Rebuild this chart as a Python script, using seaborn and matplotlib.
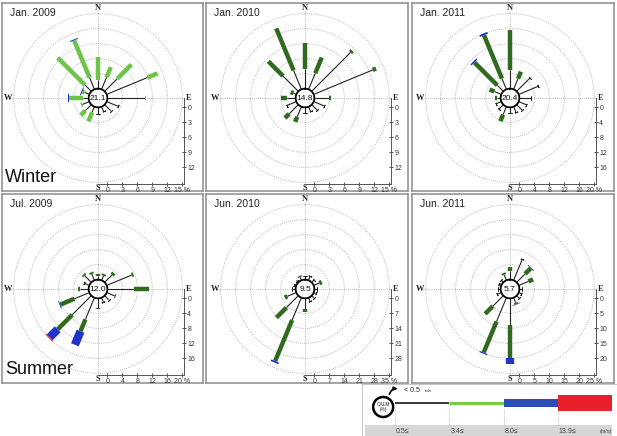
import numpy as np
import matplotlib
matplotlib.use("Agg")
import matplotlib.pyplot as plt
from matplotlib.patches import Ellipse
import seaborn as sns

W, H = 617, 436

# 16 wind directions, clockwise from north
directions = ["N", "NNE", "NE", "ENE", "E", "ESE", "SE", "SSE",
              "S", "SSW", "SW", "WSW", "W", "WNW", "NW", "NNW"]
legend_bounds = ["0.5≤", "3.4≤", "8.0≤", "13.9≤"]

panel_titles = ["Jan. 2009", "Jan. 2010", "Jan. 2011", "Jul. 2009", "Jun. 2010", "Jun. 2011"]
calm_values = [21.1, 14.8, 20.4, 12.0, 9.5, 5.7]
scale_steps = [3, 3, 4, 4, 7, 5]
season_labels = ["Winter", "Summer"]

# frequency (%) per direction for each speed class:
# low 0.5-3.4 m/s, mid 3.4-8.0, high 8.0-13.9, top >= 13.9
jan2009_low = [1.7, 2.6, 3.6, 8.8, 7.5, 2.4, 1.7, 1.0, 1.3, 1.2, 1.7, 1.5, 1.2, 1.0, 1.8, 2.5]
jan2009_mid = [4.7, 2.2, 4.0, 2.2, 0.2, 0, 0, 0, 0, 2.0, 1.3, 0.3, 2.7, 0.5, 7.7, 8.1]
jan2009_high = [0, 0, 0, 0, 0, 0, 0, 0, 0, 0, 0, 0, 0.3, 0.2, 0, 0.2]
jan2009_top = [0] * 16

jan2010_low = [3.9, 3.5, 11.0, 12.8, 3.0, 2.2, 1.5, 1.0, 1.1, 2.2, 2.6, 2.1, 1.7, 0.6, 4.3, 4.1]
jan2010_mid = [5.2, 3.4, 0.5, 0.7, 0.4, 0, 0, 0, 0, 1.1, 1.2, 0, 1.3, 0.6, 4.2, 9.1]
jan2010_high = [0] * 16
jan2010_top = [0] * 16

jan2011_low = [5.0, 3.1, 5.0, 5.7, 3.0, 2.2, 2.0, 1.5, 1.5, 2.3, 1.8, 1.5, 1.0, 2.0, 2.3, 3.1]
jan2011_mid = [10.5, 2.0, 0, 0, 0, 0, 0, 0, 0, 1.9, 0, 0, 0.6, 1.4, 8.6, 12.5]
jan2011_high = [0, 0, 0, 0, 0, 0, 0, 0, 0, 0, 0, 0, 0, 0, 0.4, 0.5]
jan2011_top = [0] * 16

jul2009_low = [1.0, 1.3, 2.8, 7.2, 7.1, 2.3, 1.5, 1.2, 2.5, 6.3, 7.2, 4.3, 2.4, 1.5, 2.5, 1.8]
jul2009_mid = [0.4, 0.5, 0.7, 0.5, 4.0, 0.3, 0, 0, 0.4, 3.4, 5.5, 4.1, 0.5, 0, 0.5, 0.5]
jul2009_high = [0, 0, 0, 0, 0, 0, 0, 0, 0, 3.9, 3.0, 0.2, 0, 0, 0, 0]
jul2009_top = [0, 0, 0, 0, 0, 0, 0, 0, 0, 0, 0.3, 0, 0, 0, 0, 0]

jun2010_low = [1.9, 2.0, 1.7, 2.8, 1.3, 1.0, 1.4, 1.6, 4.8, 11.3, 7.9, 4.5, 1.8, 1.0, 1.2, 1.6]
jun2010_mid = [0, 0, 0, 1.3, 0, 0, 0, 0, 1.7, 20.7, 6.6, 1.4, 0, 0, 0, 0.6]
jun2010_high = [0, 0, 0, 0, 0, 0, 0, 0, 0, 0.8, 0, 0, 0, 0, 0, 0]
jun2010_top = [0] * 16

jun2011_low = [3.0, 7.6, 4.0, 3.5, 1.0, 1.0, 1.2, 1.8, 8.9, 8.6, 5.0, 1.6, 1.0, 1.0, 1.0, 2.0]
jun2011_mid = [1.3, 0, 2.6, 1.7, 0, 0, 0, 0.5, 10.9, 11.2, 3.6, 0, 0, 0, 0, 0.6]
jun2011_high = [0, 0, 0.3, 0, 0, 0, 0, 0.2, 2.1, 0.4, 0, 0, 0, 0, 0, 0]
jun2011_top = [0] * 16

panel_data = [
    [jan2009_low, jan2009_mid, jan2009_high, jan2009_top],
    [jan2010_low, jan2010_mid, jan2010_high, jan2010_top],
    [jan2011_low, jan2011_mid, jan2011_high, jan2011_top],
    [jul2009_low, jul2009_mid, jul2009_high, jul2009_top],
    [jun2010_low, jun2010_mid, jun2010_high, jun2010_top],
    [jun2011_low, jun2011_mid, jun2011_high, jun2011_top],
]

light_green = "#6cc449"
dark_green = "#2f6a1e"
blue = "#2233cc"
red = "#e3262e"
line_widths = [0.8, 3.2, 6.0, 7.0]

sns.set_theme(style="white")
plt.rcParams['font.family'] = ['Liberation Sans', 'DejaVu Sans']

fig = plt.figure(figsize=(W / 100, H / 100), dpi=100)

col_edges = [(2, 203), (206, 408), (412, 614)]
row_edges = [(3, 191), (194, 383)]
col_centers = [98, 305, 510]
row_centers = [98, 289]
half = 87  # px from rose centre to axes edge


def px_rect(x0, y0, x1, y1):
    return [x0 / W, 1 - y1 / H, (x1 - x0) / W, (y1 - y0) / H]


theta = np.radians(np.arange(len(directions)) * 22.5)

for i, title in enumerate(panel_titles):
    row, col = divmod(i, 3)
    x0, x1 = col_edges[col]
    y0, y1 = row_edges[row]

    # panel frame
    frame = fig.add_axes(px_rect(x0, y0, x1, y1))
    frame.set_xticks([])
    frame.set_yticks([])
    for s in frame.spines.values():
        s.set_color("#8c8c8c")
        s.set_linewidth(1.1)
    frame.text(0.04, 0.975, title, transform=frame.transAxes,
               ha="left", va="top", fontsize=7.5, color="#222")
    if col == 0:
        frame.text(0.015, 0.05, season_labels[row], transform=frame.transAxes,
                   ha="left", va="baseline", fontsize=13, color="#111")

    step = scale_steps[i]
    vmax = 5 * step
    r0 = 0.125 * vmax
    cx, cy = col_centers[col], row_centers[row]
    rect = px_rect(cx - half, cy - half, cx + half, cy + half)

    # wind rose
    ax = fig.add_axes(rect, projection="polar")
    ax.set_theta_zero_location("N")
    ax.set_theta_direction(-1)
    ax.set_rorigin(-r0)
    ax.set_ylim(0, 1.035 * vmax)
    ax.set_yticks(np.arange(1, 6) * step, labels=[""] * 5)
    ax.set_xticks(np.radians([0, 90, 180, 270]), labels=[""] * 4)
    ax.grid(True, color="#a5a5a5", linestyle=(0, (1, 1.5)), linewidth=0.6)
    for s in ax.spines.values():
        s.set_visible(False)
    ax.set_facecolor("none")

    green = light_green if i == 0 else dark_green
    colors = ["#222222", green, blue, red]
    stacks = np.array(panel_data[i], dtype=float)
    ends = np.cumsum(stacks, axis=0)
    starts = ends - stacks
    for k in range(4):
        for j in range(len(directions)):
            if stacks[k, j] > 0:
                ax.plot([theta[j], theta[j]], [starts[k, j], ends[k, j]],
                        color=colors[k], lw=line_widths[k],
                        solid_capstyle="butt", zorder=3 + k)
    # small end ticks on calm-only spokes
    for j in range(len(directions)):
        if stacks[1:, j].sum() == 0:
            ax.plot(theta[j], ends[0, j], marker=(2, 2, 90 - np.degrees(theta[j])),
                    ms=2.5, mew=0.6, color="#222222", zorder=3)

    circ = np.linspace(0, 2 * np.pi, 200)
    ax.plot(circ, np.zeros_like(circ), color="black", lw=0.8, clip_on=False, zorder=8)

    for ang, lab in zip([0, 90, 180, 270], ["N", "E", "S", "W"]):
        ax.text(np.radians(ang), 1.08 * vmax, lab, ha="center", va="center",
                fontsize=6, fontweight="bold", family="Liberation Serif", color="#222")

    # percentage scale in the lower-right corner
    sc = fig.add_axes(rect)
    D = r0 + 1.035 * vmax
    sc.set_xlim(-D, D)
    sc.set_ylim(-D, D)
    sc.patch.set_alpha(0)
    edge = r0 + 1.02 * vmax
    sc.spines["left"].set_visible(False)
    sc.spines["top"].set_visible(False)
    sc.spines["right"].set_position(("data", edge))
    sc.spines["right"].set_bounds(-edge, 0)
    sc.spines["bottom"].set_position(("data", -edge))
    sc.spines["bottom"].set_bounds(0, edge)
    for side in ["right", "bottom"]:
        sc.spines[side].set_color("#555")
        sc.spines[side].set_linewidth(0.7)
    sc.yaxis.tick_right()
    tick_vals = np.arange(0, 6) * step
    sc.set_xticks(r0 + tick_vals,
                  labels=[str(v) for v in tick_vals[:-1]] + [f"{tick_vals[-1]} %"])
    sc.set_yticks(-(r0 + tick_vals[:-1]), labels=[str(v) for v in tick_vals[:-1]])
    sc.tick_params(bottom=True, right=True, left=False, direction="inout",
                   length=3, width=0.6, labelsize=5, pad=1, colors="#333")
    sc.text(0, 0, f"{calm_values[i]:.1f}", ha="center", va="center",
            fontsize=6, color="#111")

# legend key
lg = fig.add_axes(px_rect(362, 384, 617, 436))
lg.set_xlim(-0.61, 4.09)
lg.set_ylim(0, 52)
lg.set_xticks([])
lg.set_yticks([])
for s in lg.spines.values():
    s.set_color("#bbbbbb")
    s.set_linewidth(0.6)
lg.fill_between([-0.55, 4.0], 0, 11, color="#d6d6d6", lw=0)
lg.vlines(range(4), 11, 27, colors="#999999", linestyles=":", lw=0.6)
key_colors = ["black", "#7acb45", "#2e4cb8", "#e8202a"]
key_widths = [1.1, 2.3, 5.8, 11.5]
for k in range(4):
    lg.plot([k, k + 1], [33, 33], color=key_colors[k], lw=key_widths[k],
            solid_capstyle="butt")
    lg.text(k + 0.02, 5, legend_bounds[k], ha="left", va="center",
            fontsize=5, color="#444")
lg.text(4.0, 5, "(m/s)", ha="right", va="center", fontsize=4, color="#444")
lg.add_patch(Ellipse((-0.22, 29), width=20 / 54.3, height=20, fill=False,
                     lw=1.8, color="black", zorder=5))
lg.text(-0.22, 29, "CALM\n(%)", ha="center", va="center", fontsize=3.5,
        linespacing=0.9, color="#222")
lg.annotate("", xy=(0.1, 47), xytext=(-0.12, 39),
            arrowprops=dict(arrowstyle="-|>", connectionstyle="arc3,rad=-0.5",
                            lw=1.2, color="black", mutation_scale=5))
lg.text(0.16, 46, "< 0.5", ha="left", va="center", fontsize=5, color="#222")
lg.text(0.55, 45.5, "m/s", ha="left", va="center", fontsize=3.2, color="#222")

fig.savefig("out.png", dpi=100)
